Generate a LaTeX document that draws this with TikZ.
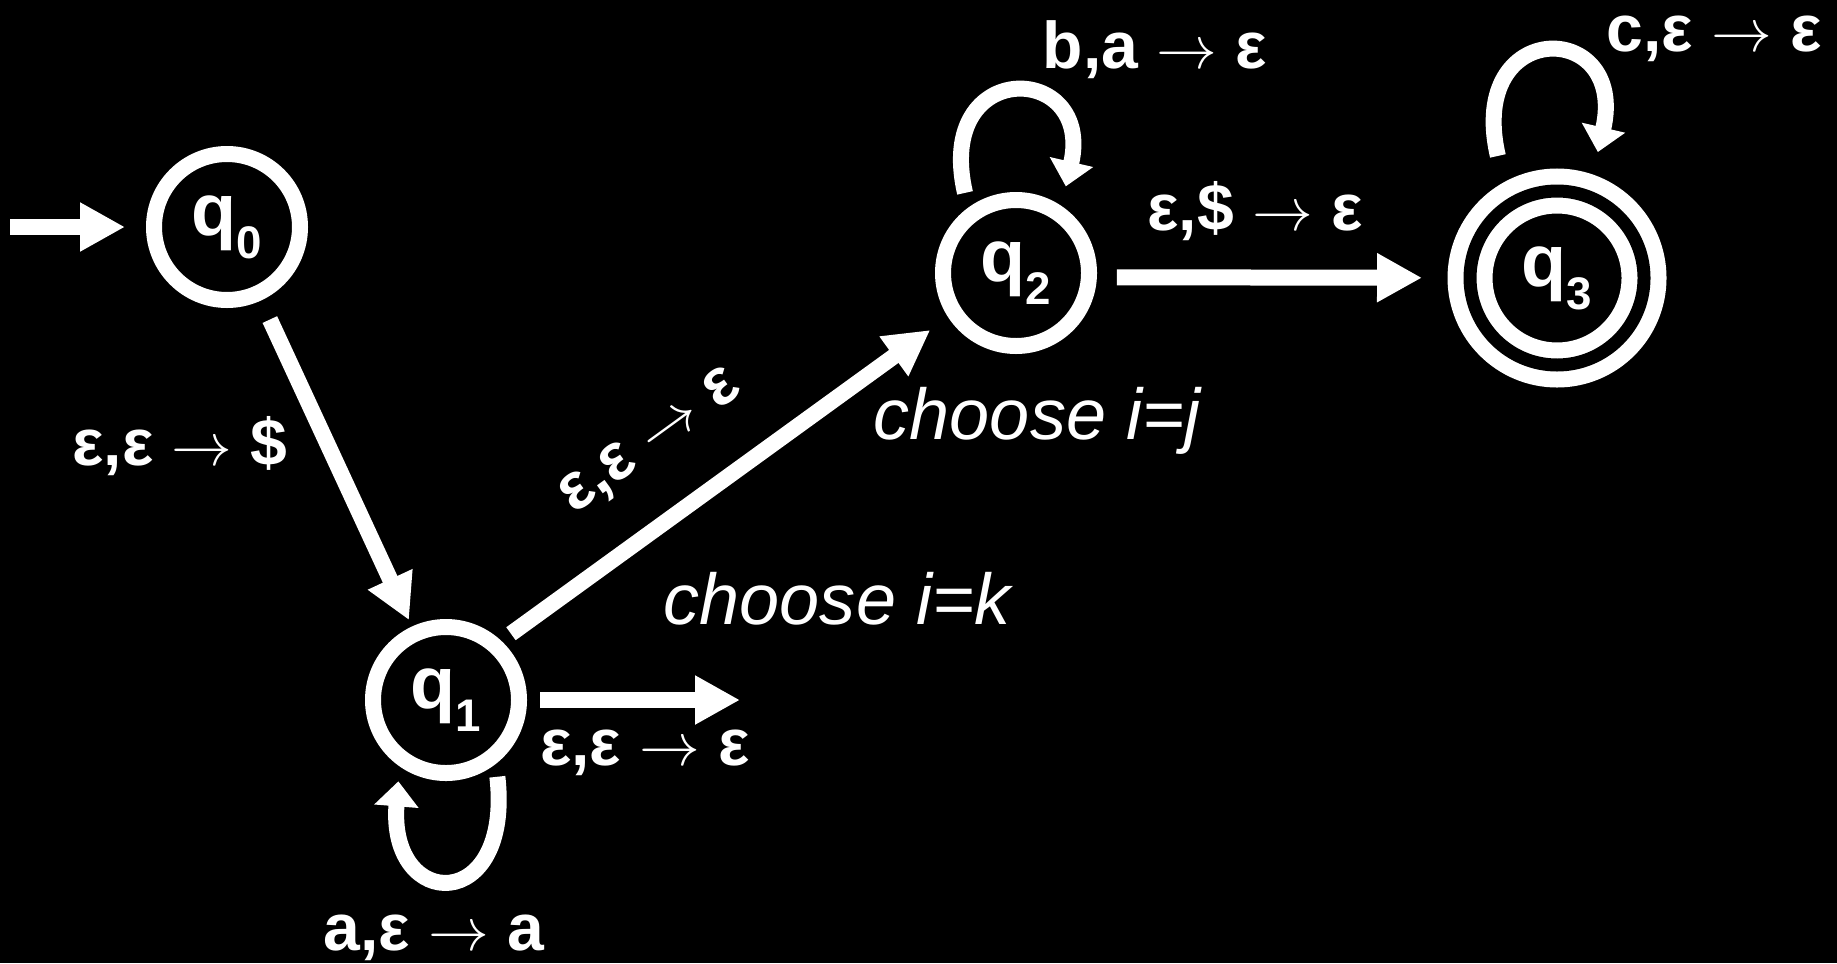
\documentclass[tikz,border=0pt]{standalone}
\usepackage{fontspec}
\setsansfont{Liberation Sans}
\usetikzlibrary{arrows.meta}

% state name with a lowered index
\newcommand{\qsub}[1]{q\raisebox{-6.5pt}{\fontsize{13}{13}\selectfont #1}}

\begin{document}
\begin{tikzpicture}[
    qstate/.style={circle, draw=white, line width=0.16cm, minimum size=1.46cm,
        inner sep=0pt, text=white, font=\sffamily\bfseries\fontsize{21}{21}\selectfont},
    qfinal/.style={qstate, double=black, double distance=0.13cm,
        minimum size=1.74cm, outer sep=0.225cm},
    trans/.style={draw=white, line width=0.16cm,
        -{Triangle[length=0.45cm, width=0.46cm]}},
    loopy/.style={draw=white, line width=0.16cm,
        -{Triangle[length=0.25cm, width=0.43cm]}},
    lbl/.style={text=white, anchor=base, inner sep=0pt,
        font=\sffamily\bfseries\fontsize{18.8}{19}\selectfont},
    note/.style={text=white, anchor=base, inner sep=0pt,
        font=\sffamily\itshape\fontsize{20.5}{21}\selectfont}]

    \fill[black] (0,0) rectangle (18.37,9.63);
    \useasboundingbox (0,0) rectangle (18.37,9.63);

    % states
    \node[qstate] (q0) at (2.27,7.36) {\qsub{0}};
    \node[qstate] (q1) at (4.46,2.63) {\qsub{1}};
    \node[qstate] (q2) at (10.16,6.90) {\qsub{2}};
    \node[qfinal] (q3) at (15.57,6.85) {\qsub{3}};

    \coordinate (init) at (0.10,7.36);
    \coordinate (q1out) at (7.40,2.63);

    % transitions
    \draw[trans, shorten >=0.21cm] (init) -- (q0);
    \draw[trans, shorten <=0.21cm, shorten >=0.07cm] (q0) -- (q1);
    \draw[trans, shorten <=0.12cm, shorten >=0.22cm] (q1.47) -- (q2.213);
    \draw[trans, shorten <=0.13cm] (q1) -- (q1out);
    \draw[trans, shorten <=0.20cm, shorten >=0.255cm] (q2.-3.5) -- (q3);

    % self loops
    \draw[loopy, shorten <=0.13cm, shorten >=0.15cm]
        (q1.-52) .. controls +(-83.5:1.52) and +(-94.5:1.46) .. (q1.-125);
    \draw[loopy, shorten <=0.15cm, shorten >=0.2cm]
        (q2.126) .. controls +(103:1.55) and +(77:1.48) .. (q2.56);
    \draw[loopy, shorten <=0.27cm, shorten >=0.23cm]
        (q3.119) .. controls +(103:1.70) and +(77:1.60) .. (q3.71.5);

    % labels
    \node[lbl] (l01) at (1.80,4.98) {ε,ε $\rightarrow$ \$};
    \node[lbl] (l11) at (4.34,0.13) {a,ε $\rightarrow$ a};
    \node[lbl] (l1o) at (6.45,1.98) {ε,ε $\rightarrow$ ε};
    \node[lbl, anchor=center, rotate=36] (l12) at (6.52,5.20) {ε,ε $\rightarrow$ ε};
    \node[lbl] (l22) at (11.55,8.95) {b,a $\rightarrow$ ε};
    \node[lbl] (l23) at (12.55,7.33) {ε,\$ $\rightarrow$ ε};
    \node[lbl] (l33) at (17.14,9.12) {c,ε $\rightarrow$ ε};

    \node[note] (nj) at (10.37,5.24) {choose i=j};
    \node[note] (nk) at (8.37,3.39) {choose i=k};
\end{tikzpicture}
\end{document}
